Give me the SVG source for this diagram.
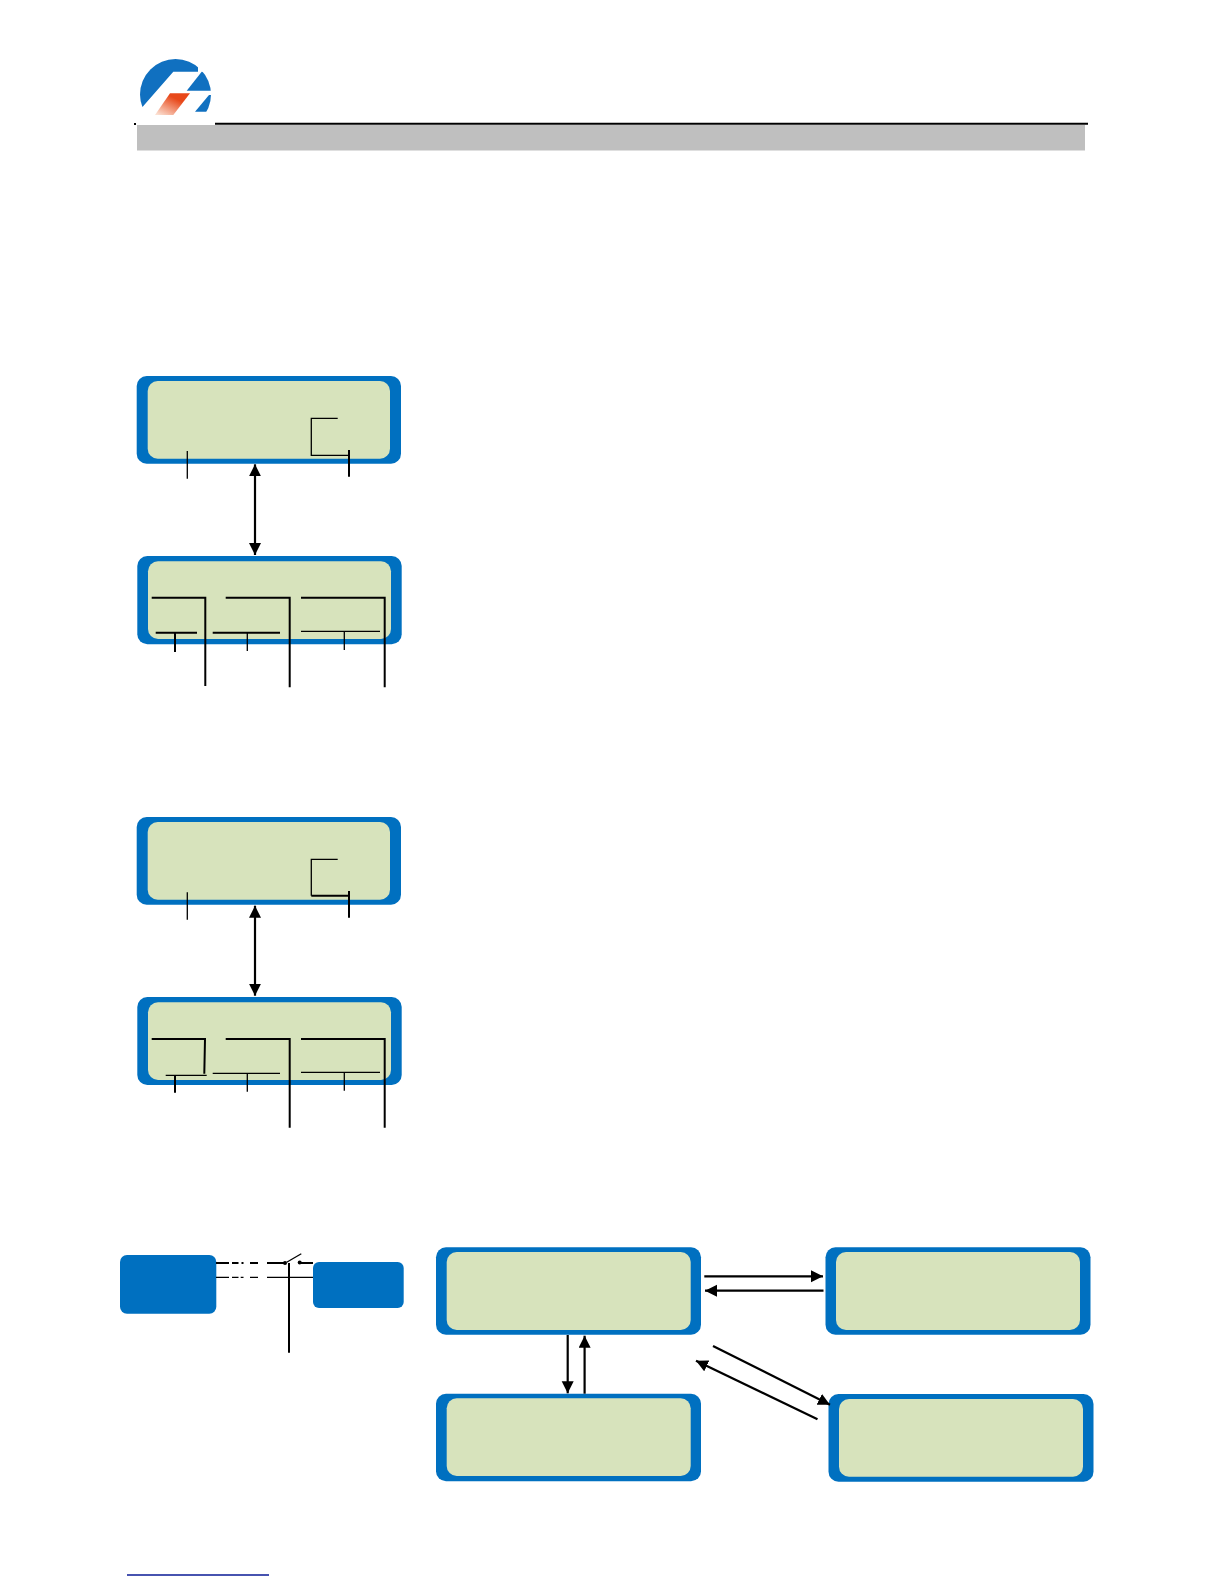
<svg xmlns="http://www.w3.org/2000/svg" width="1224" height="1584" viewBox="0 0 1224 1584">
<style>
.outer{fill:#0070c0}
.inner{fill:#d7e3bc}
.l1{fill:none;stroke:#000;stroke-width:1.300}
.l2{fill:none;stroke:#000;stroke-width:2}
.a{fill:none;stroke:#000;stroke-width:2.200}
</style>
<defs>
<marker id="ah" markerUnits="userSpaceOnUse" markerWidth="13" markerHeight="13" refX="12" refY="6" orient="auto-start-reverse"><path d="M0 0L12 6L0 12Z" fill="#000"/></marker>
<linearGradient id="red" x1="0.9" y1="0" x2="0.1" y2="1"><stop offset="0.3" stop-color="#e8481a"/><stop offset="1" stop-color="#fbe0d2"/></linearGradient>
<clipPath id="logoClip"><circle cx="175.500" cy="94.500" r="35.500"/></clipPath>
</defs>
<rect width="1224" height="1584" fill="#fff"/>
<g id="header">
<rect x="137" y="125" width="948" height="25.500" fill="#bfbfbf"/>
<line x1="215" y1="123.700" x2="1088" y2="123.700" stroke="#000" stroke-width="2"/>
<rect x="134" y="123" width="2" height="2" fill="#000"/>
<g id="logo">
<g clip-path="url(#logoClip)" fill="#1070c0">
<path d="M142.700 106.700L173.300 71.700H198V50H130V106.700Z"/>
<path d="M186.700 90.700L201.700 71.700H215V90.700Z"/>
<path d="M195 111.700L209 95H215V111.700Z"/>
</g>
<path d="M170 93.300H190L173.300 115H155Z" fill="url(#red)"/>
</g>
</g>
<g id="panel1"><rect class="outer" x="136.700" y="376" width="264.300" height="87.700" rx="10"/><rect class="inner" x="147.700" y="381" width="242.300" height="77.700" rx="10"/></g>
<g id="panel2"><rect class="outer" x="137.300" y="556" width="264.400" height="88.300" rx="10"/><rect class="inner" x="148" y="561.300" width="243" height="77.700" rx="10"/></g>
<g id="panel3"><rect class="outer" x="136.700" y="817" width="264.300" height="87.700" rx="10"/><rect class="inner" x="147.700" y="822" width="242.300" height="77.700" rx="10"/></g>
<g id="panel4"><rect class="outer" x="137.300" y="997" width="264.400" height="88" rx="10"/><rect class="inner" x="148" y="1002.300" width="243" height="77.700" rx="10"/></g>
<g id="blockLeft"><rect class="outer" x="120" y="1255" width="96.300" height="58.700" rx="7"/></g>
<g id="blockRight"><rect class="outer" x="313" y="1262" width="90.700" height="46" rx="6"/></g>
<g id="stateA"><rect class="outer" x="436" y="1247.300" width="265" height="87.400" rx="10"/><rect class="inner" x="446.700" y="1252" width="244" height="78" rx="10"/></g>
<g id="stateB"><rect class="outer" x="825.500" y="1247.300" width="265" height="87.400" rx="10"/><rect class="inner" x="836" y="1252" width="244" height="78" rx="10"/></g>
<g id="stateC"><rect class="outer" x="436" y="1393.700" width="265" height="87.600" rx="10"/><rect class="inner" x="446.700" y="1398.300" width="244" height="77.700" rx="10"/></g>
<g id="stateD"><rect class="outer" x="828.500" y="1394" width="265" height="87.700" rx="10"/><rect class="inner" x="839" y="1399" width="244" height="77.700" rx="10"/></g>
<g id="connectors">
<path class="l1" d="M187.300 451V478.700"/>
<path class="l1" d="M337.700 418.300H311.300V455.300H349"/>
<path class="l2" d="M349 450V476.700"/>
<line class="a" x1="255" y1="464.300" x2="255" y2="555" marker-start="url(#ah)" marker-end="url(#ah)"/>
<path class="l2" d="M151.700 597.700H205.300V686"/>
<path class="l2" d="M225.700 597.700H289.700V687.300"/>
<path class="l2" d="M301 597.700H384.700V687.300"/>
<path class="l2" d="M155.700 632.700H197M175 632.700V652"/>
<path class="l2" d="M212.700 632.700H280"/><path class="l1" d="M247.300 632.700V651"/>
<path class="l1" d="M301 631.300H380M344.300 631.300V650"/>

<path class="l1" d="M187.300 892.300V919.700"/>
<path class="l1" d="M337.700 859.300H311.300V895.700"/>
<path class="l2" d="M311.300 895.700H349"/>
<path class="l2" d="M349 891V917.700"/>
<line class="a" x1="255" y1="905.700" x2="255" y2="995.700" marker-start="url(#ah)" marker-end="url(#ah)"/>
<path class="l2" d="M151.700 1039H205L204.300 1073.700"/>
<path class="l2" d="M225.700 1039H289.700V1127.700"/>
<path class="l2" d="M301 1039H384.700V1127.700"/>
<path class="l1" d="M165.700 1075.300H206.700"/><path class="l2" d="M175 1075.300V1092.700"/>
<path class="l1" d="M212.700 1073.300H280M247.300 1073.300V1091.700"/>
<path class="l1" d="M301 1072.300H380M344.300 1072.300V1090.700"/>

<path class="l2" d="M216 1263H229M232 1263H238.500M241.500 1263H243.500M250 1263H258M267 1263H285"/>
<path class="l1" d="M216 1277.300H229M232 1277.300H238.500M240.700 1277.300H243.500M250 1277.300H258M267 1277.300H313"/>
<circle cx="285" cy="1263" r="2"/><circle cx="299.700" cy="1262.500" r="2"/>
<path class="l1" d="M286.700 1262.300L301.300 1253.700"/>
<path class="l2" d="M300 1263H313"/>
<path class="l2" d="M289 1263V1352.700" stroke-width="1.500"/>

<line class="a" x1="704.300" y1="1276.300" x2="823" y2="1276.300" marker-end="url(#ah)"/>
<line class="a" x1="823.500" y1="1290.700" x2="705" y2="1290.700" marker-end="url(#ah)"/>
<line class="a" x1="567.700" y1="1335" x2="567.700" y2="1393.300" marker-end="url(#ah)"/>
<line class="a" x1="584.600" y1="1393.700" x2="584.600" y2="1335.700" marker-end="url(#ah)"/>
<line class="a" x1="713" y1="1346" x2="830" y2="1404.700" marker-end="url(#ah)"/>
<line class="a" x1="817.500" y1="1419.300" x2="696" y2="1360.700" marker-end="url(#ah)"/>
</g>
<line id="footer" x1="127" y1="1575" x2="269" y2="1575" stroke="#0a1a96" stroke-width="1.300"/>
</svg>
